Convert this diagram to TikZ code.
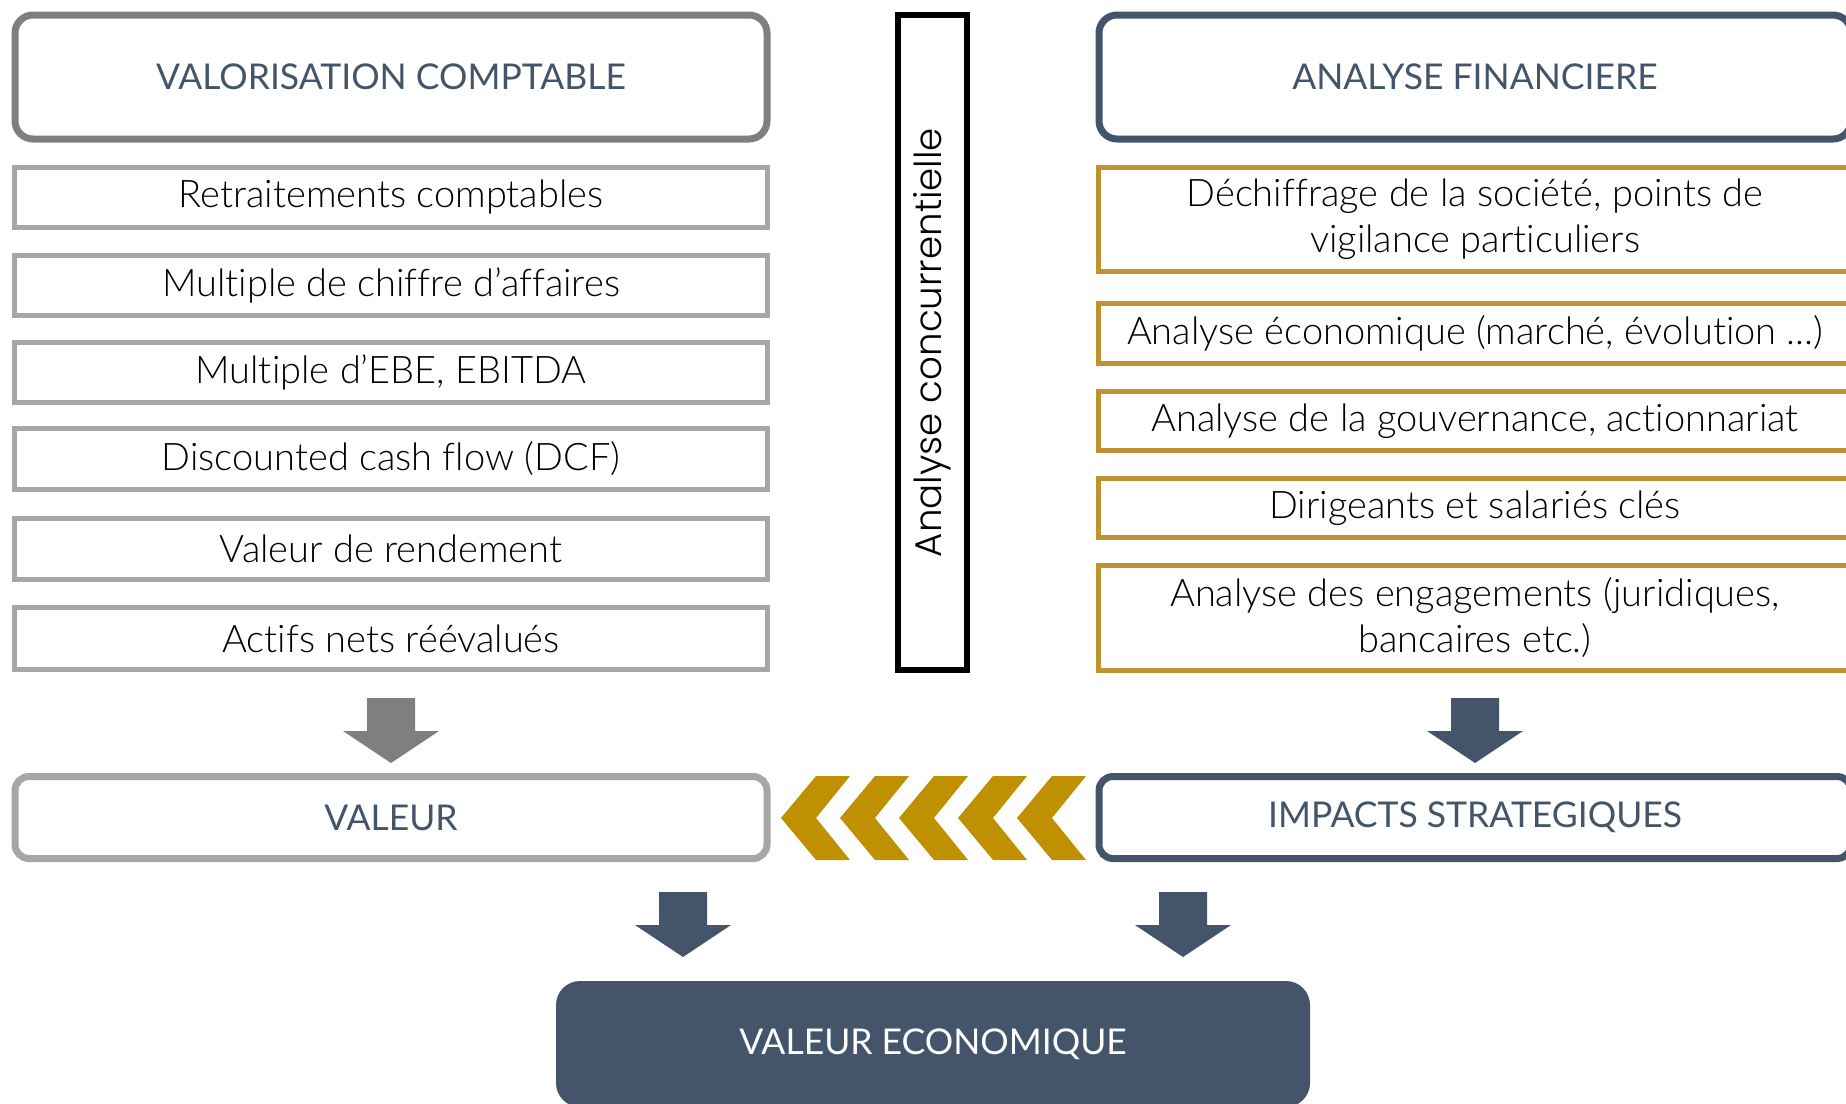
\documentclass[tikz,border=0pt]{standalone}
\usepackage{fontspec}
\usetikzlibrary{calc}
\setmainfont{Lato}[UprightFont=* Light, Ligatures={NoCommon}]
\newfontfamily\titlefont{Lato}[Ligatures={NoCommon}]
\newfontfamily\geofont{Poppins Light}
\definecolor{navy}{HTML}{44546A}
\definecolor{grayD}{HTML}{7F7F7F}
\definecolor{grayL}{HTML}{A6A6A6}
\definecolor{goldB}{HTML}{BF9232}
\definecolor{goldC}{HTML}{BF9000}
\newcommand\blockdown[3]{%
  \fill[#1] let \p1=(#2), \p2=(#3) in
   (\x1-24pt,\y1) -- (\x1+24pt,\y1) -- (\x1+24pt,\y2+32pt) -- (\x1+48pt,\y2+32pt)
   -- (\x2,\y2) -- (\x1-48pt,\y2+32pt) -- (\x1-24pt,\y2+32pt) -- cycle;}
\tikzset{
  titlebox/.style={draw=#1, line width=7pt, rounded corners=18pt, minimum width=752pt,
    minimum height=124pt, inner sep=0pt, fill=white, text=navy,
    font=\titlefont\fontsize{35.5}{42}\selectfont},
  itembox/.style={draw=#1, line width=5pt, minimum width=753pt, inner sep=0pt, fill=white,
    align=center, text=black, font=\fontsize{38}{46}\selectfont},
  resbox/.style={draw=#1, line width=7pt, rounded corners=14pt, minimum width=752pt,
    minimum height=82pt, inner sep=0pt, fill=white, text=navy,
    font=\titlefont\fontsize{35.5}{42}\selectfont},
  chev/.style={fill=goldC}
}
\begin{document}
\begin{tikzpicture}[x=1pt,y=-1pt]
\useasboundingbox (0,0) rectangle (1846,1103);
% left column
\node[titlebox=grayD] (tL) at (391,77) {VALORISATION COMPTABLE};
\node[itembox=grayL, minimum height=60pt] (l1) at (391,197.5) {Retraitements comptables};
\node[itembox=grayL, minimum height=60pt] (l2) at (391,285) {Multiple de chiffre d’affaires};
\node[itembox=grayL, minimum height=60pt] (l3) at (391,372) {Multiple d’EBE, EBITDA};
\node[itembox=grayL, minimum height=61pt] (l4) at (391,459) {Discounted cash flow (DCF)};
\node[itembox=grayL, minimum height=61pt] (l5) at (391,549) {Valeur de rendement};
\node[itembox=grayL, minimum height=62pt] (l6) at (391,638.5) {Actifs nets réévalués};
\node[resbox=grayL] (val) at (391,817.5) {VALEUR};
% middle
\node[draw=black, line width=6pt, rotate=90, minimum width=655pt, minimum height=69pt,
  inner sep=0pt, font=\geofont\fontsize{37.2}{40}\selectfont] (conc) at (932.5,342.5)
  {Analyse concurrentielle};
% right column
\node[titlebox=navy] (tR) at (1475,77) {ANALYSE FINANCIERE};
\node[itembox=goldB, minimum height=104pt] (r1) at (1475,219.5)
  {Déchiffrage de la société, points de\\vigilance particuliers};
\node[itembox=goldB, minimum height=60pt] (r2) at (1475,333.5) {Analyse économique (marché, évolution ...)};
\node[itembox=goldB, minimum height=59pt] (r3) at (1475,421) {Analyse de la gouvernance, actionnariat};
\node[itembox=goldB, minimum height=59pt] (r4) at (1475,508) {Dirigeants et salariés clés};
\node[itembox=goldB, minimum height=105pt] (r5) at (1475,618) {Analyse des engagements (juridiques,\\bancaires etc.)};
\node[resbox=navy] (imp) at (1475,817.5) {IMPACTS STRATEGIQUES};
% final
\node[fill=navy, rounded corners=24pt, minimum width=754pt, minimum height=126pt, inner sep=0pt,
  text=white, font=\titlefont\fontsize{35.5}{42}\selectfont] (eco) at (933,1044) {VALEUR ECONOMIQUE};
% block arrows
\coordinate (a1t) at (391,698);  \coordinate (a1e) at (391,763);
\coordinate (a2t) at (1475,698); \coordinate (a2e) at (1475,763);
\coordinate (a3t) at (683,892);  \coordinate (a3e) at (683,957);
\coordinate (a4t) at (1183,892); \coordinate (a4e) at (1183,957);
\blockdown{grayD}{a1t}{a1e}
\blockdown{navy}{a2t}{a2e}
\blockdown{navy}{a3t}{a3e}
\blockdown{navy}{a4t}{a4e}
% chevrons from impacts to valeur
\foreach \i in {0,...,4}{
  \pgfmathsetmacro\tx{781+59*\i}
  \fill[chev] (\tx,818) -- (\tx+35,776) -- (\tx+69,776) -- (\tx+35,818)
    -- (\tx+69,860) -- (\tx+35,860) -- cycle;
}
\end{tikzpicture}
\end{document}
